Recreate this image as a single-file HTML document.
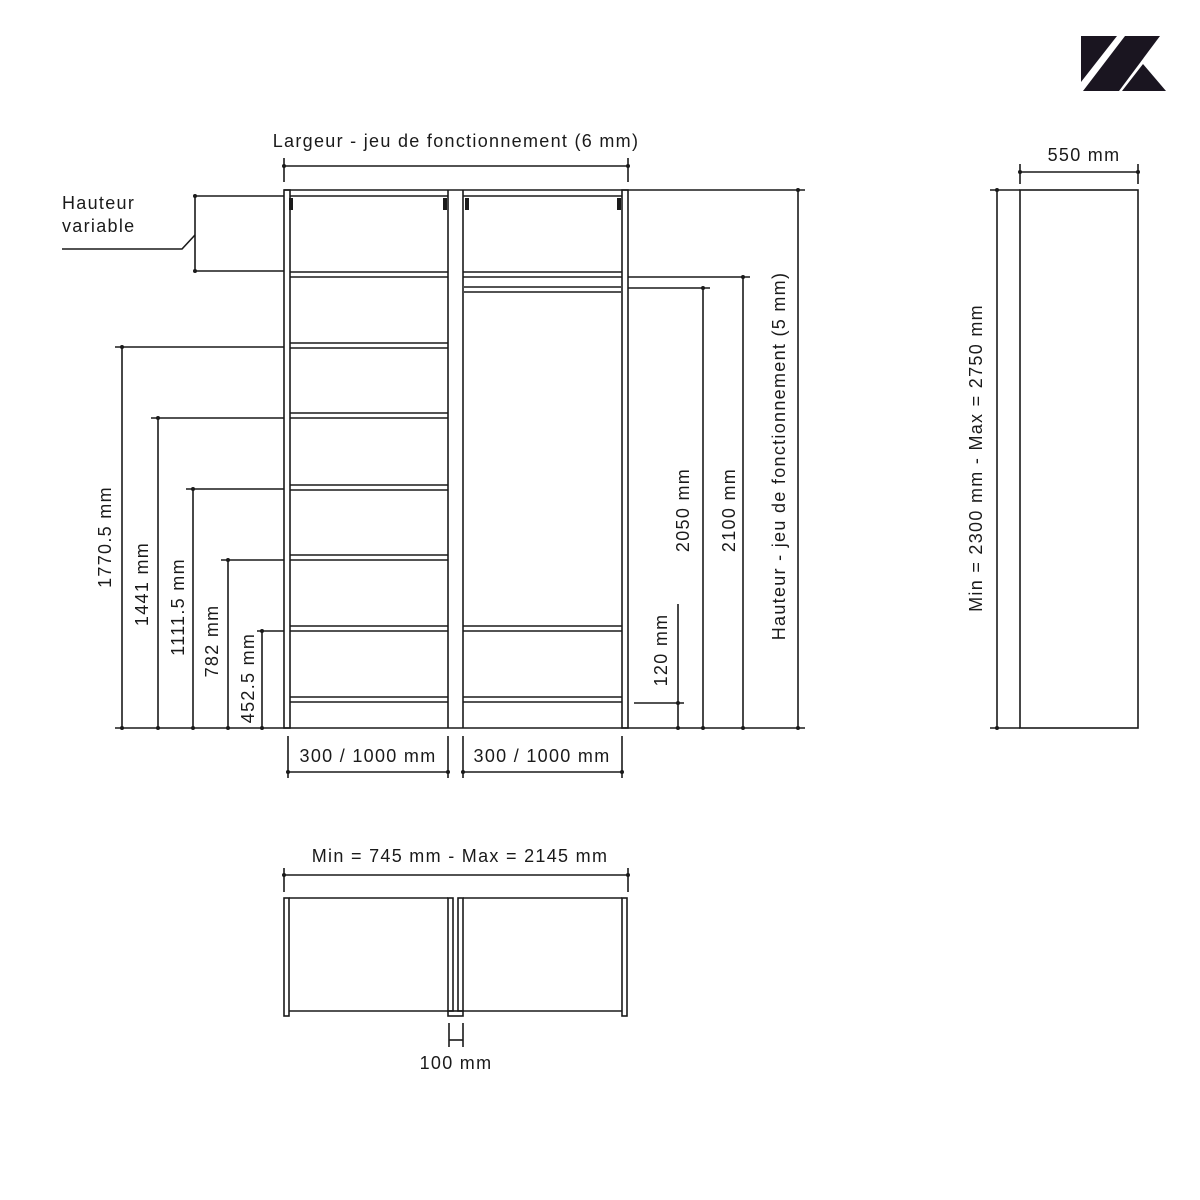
<!DOCTYPE html>
<html><head><meta charset="utf-8"><style>
html,body{margin:0;padding:0;background:#fff}
svg{display:block}
text{font-family:"Liberation Sans",sans-serif;font-size:18px;fill:#1a1a1a;letter-spacing:1.3px}
</style></head><body>
<svg width="1200" height="1200" viewBox="0 0 1200 1200" xmlns="http://www.w3.org/2000/svg">
<g fill="#1a1520">
<polygon points="1081,36 1117,36 1081,82"/>
<polygon points="1125,36 1160,36 1119,91 1083,91"/>
<polygon points="1143,64 1166,91 1122,91"/>
</g>
<g stroke="#1a1a1a" stroke-width="1.6" fill="none">
<rect x="284" y="190" width="6" height="538"/>
<rect x="622" y="190" width="6" height="538"/>
<line x1="448" y1="190" x2="448" y2="728"/>
<line x1="463" y1="190" x2="463" y2="728"/>
<line x1="284" y1="190" x2="628" y2="190"/>
<line x1="290" y1="196" x2="448" y2="196"/>
<line x1="463" y1="196" x2="622" y2="196"/>
<line x1="284" y1="728" x2="628" y2="728"/>
<g>
<line x1="290" y1="272" x2="448" y2="272"/><line x1="290" y1="277" x2="448" y2="277"/>
<line x1="290" y1="343" x2="448" y2="343"/><line x1="290" y1="348" x2="448" y2="348"/>
<line x1="290" y1="413" x2="448" y2="413"/><line x1="290" y1="418" x2="448" y2="418"/>
<line x1="290" y1="485" x2="448" y2="485"/><line x1="290" y1="490" x2="448" y2="490"/>
<line x1="290" y1="555" x2="448" y2="555"/><line x1="290" y1="560" x2="448" y2="560"/>
<line x1="290" y1="626" x2="448" y2="626"/><line x1="290" y1="631" x2="448" y2="631"/>
<line x1="290" y1="697" x2="448" y2="697"/><line x1="290" y1="702" x2="448" y2="702"/>
</g>
<g>
<line x1="463" y1="272" x2="622" y2="272"/><line x1="463" y1="277" x2="622" y2="277"/>
<line x1="464" y1="287" x2="621" y2="287"/><line x1="464" y1="292" x2="621" y2="292"/>
<line x1="463" y1="626" x2="622" y2="626"/><line x1="463" y1="631" x2="622" y2="631"/>
<line x1="463" y1="697" x2="622" y2="697"/><line x1="463" y1="702" x2="622" y2="702"/>
</g>
<line x1="284" y1="166" x2="628" y2="166"/>
<line x1="284" y1="158" x2="284" y2="182"/><line x1="628" y1="158" x2="628" y2="182"/>
<line x1="195" y1="196" x2="284" y2="196"/><line x1="195" y1="271" x2="284" y2="271"/>
<line x1="195" y1="196" x2="195" y2="271"/>
<polyline points="62,249 182,249 195,235"/>
<line x1="115" y1="728" x2="284" y2="728"/>
<line x1="122" y1="347" x2="122" y2="728"/><line x1="115" y1="347" x2="284" y2="347"/>
<line x1="158" y1="418" x2="158" y2="728"/><line x1="151" y1="418" x2="284" y2="418"/>
<line x1="193" y1="489" x2="193" y2="728"/><line x1="186" y1="489" x2="284" y2="489"/>
<line x1="228" y1="560" x2="228" y2="728"/><line x1="221" y1="560" x2="284" y2="560"/>
<line x1="262" y1="631" x2="262" y2="728"/><line x1="257" y1="631" x2="284" y2="631"/>
<line x1="628" y1="728" x2="805" y2="728"/>
<line x1="678" y1="604" x2="678" y2="728"/><line x1="634" y1="703" x2="684" y2="703"/>
<line x1="703" y1="288" x2="703" y2="728"/><line x1="628" y1="288" x2="710" y2="288"/>
<line x1="743" y1="277" x2="743" y2="728"/><line x1="628" y1="277" x2="750" y2="277"/>
<line x1="798" y1="190" x2="798" y2="728"/><line x1="628" y1="190" x2="805" y2="190"/>
<line x1="288" y1="736" x2="288" y2="778"/><line x1="448" y1="736" x2="448" y2="778"/>
<line x1="288" y1="772" x2="448" y2="772"/>
<line x1="463" y1="736" x2="463" y2="778"/><line x1="622" y1="736" x2="622" y2="778"/>
<line x1="463" y1="772" x2="622" y2="772"/>
<rect x="1020" y="190" width="118" height="538"/>
<line x1="1020" y1="172" x2="1138" y2="172"/>
<line x1="1020" y1="164" x2="1020" y2="184"/><line x1="1138" y1="164" x2="1138" y2="184"/>
<line x1="997" y1="190" x2="997" y2="728"/>
<line x1="990" y1="190" x2="1020" y2="190"/><line x1="990" y1="728" x2="1020" y2="728"/>
<line x1="284" y1="875" x2="628" y2="875"/>
<line x1="284" y1="868" x2="284" y2="892"/><line x1="628" y1="868" x2="628" y2="892"/>
<rect x="284" y="898" width="5" height="118"/>
<rect x="622" y="898" width="5" height="118"/>
<line x1="289" y1="898" x2="448" y2="898"/><line x1="289" y1="1011" x2="448" y2="1011"/>
<line x1="463" y1="898" x2="622" y2="898"/><line x1="463" y1="1011" x2="622" y2="1011"/>
<rect x="448" y="898" width="5" height="113"/>
<rect x="458" y="898" width="5" height="113"/>
<rect x="448" y="1011" width="15" height="5"/>
<line x1="449" y1="1023" x2="449" y2="1047"/><line x1="463" y1="1023" x2="463" y2="1047"/>
<line x1="449" y1="1040" x2="463" y2="1040"/>
</g>
<g fill="#1a1a1a">
<circle cx="284" cy="166" r="2"/><circle cx="628" cy="166" r="2"/>
<circle cx="195" cy="196" r="2"/><circle cx="195" cy="271" r="2"/>
<circle cx="122" cy="347" r="2"/><circle cx="158" cy="418" r="2"/><circle cx="193" cy="489" r="2"/><circle cx="228" cy="560" r="2"/><circle cx="262" cy="631" r="2"/>
<circle cx="122" cy="728" r="2"/><circle cx="158" cy="728" r="2"/><circle cx="193" cy="728" r="2"/><circle cx="228" cy="728" r="2"/><circle cx="262" cy="728" r="2"/>
<circle cx="678" cy="703" r="2"/><circle cx="678" cy="728" r="2"/><circle cx="703" cy="288" r="2"/><circle cx="703" cy="728" r="2"/>
<circle cx="743" cy="277" r="2"/><circle cx="743" cy="728" r="2"/><circle cx="798" cy="190" r="2"/><circle cx="798" cy="728" r="2"/>
<circle cx="288" cy="772" r="2"/><circle cx="448" cy="772" r="2"/><circle cx="463" cy="772" r="2"/><circle cx="622" cy="772" r="2"/>
<circle cx="1020" cy="172" r="2"/><circle cx="1138" cy="172" r="2"/><circle cx="997" cy="190" r="2"/><circle cx="997" cy="728" r="2"/>
<circle cx="284" cy="875" r="2"/><circle cx="628" cy="875" r="2"/>
<rect x="289" y="198" width="4" height="12"/><rect x="443" y="198" width="4" height="12"/>
<rect x="465" y="198" width="4" height="12"/><rect x="617" y="198" width="4" height="12"/>
</g>
<text x="456" y="147" text-anchor="middle">Largeur - jeu de fonctionnement (6 mm)</text>
<text x="62" y="209">Hauteur</text>
<text x="62" y="232">variable</text>
<text x="368" y="762" text-anchor="middle">300 / 1000 mm</text>
<text x="542" y="762" text-anchor="middle">300 / 1000 mm</text>
<text x="1084" y="161" text-anchor="middle">550 mm</text>
<text x="460" y="862" text-anchor="middle">Min = 745 mm - Max = 2145 mm</text>
<text x="456" y="1069" text-anchor="middle">100 mm</text>
<text transform="translate(111,537) rotate(-90)" text-anchor="middle">1770.5 mm</text>
<text transform="translate(148,584) rotate(-90)" text-anchor="middle">1441 mm</text>
<text transform="translate(184,607) rotate(-90)" text-anchor="middle">1111.5 mm</text>
<text transform="translate(218,641) rotate(-90)" text-anchor="middle">782 mm</text>
<text transform="translate(254,678) rotate(-90)" text-anchor="middle">452.5 mm</text>
<text transform="translate(667,650) rotate(-90)" text-anchor="middle">120 mm</text>
<text transform="translate(689,510) rotate(-90)" text-anchor="middle">2050 mm</text>
<text transform="translate(735,510) rotate(-90)" text-anchor="middle">2100 mm</text>
<text transform="translate(785,456) rotate(-90)" text-anchor="middle">Hauteur - jeu de fonctionnement (5 mm)</text>
<text transform="translate(982,458) rotate(-90)" text-anchor="middle">Min = 2300 mm - Max = 2750 mm</text>
</svg>
</body></html>
